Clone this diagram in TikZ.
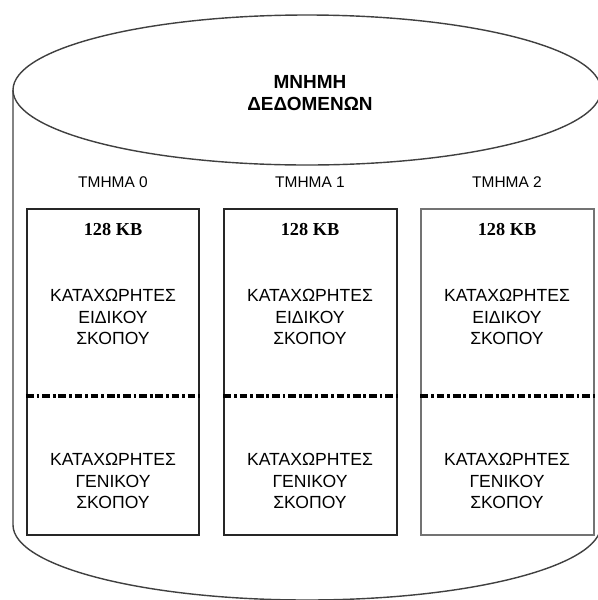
\documentclass[tikz,border=0pt]{standalone}
\usepackage{fontspec}
\setmainfont{Liberation Sans}
\newfontfamily\timesfont{Liberation Serif}
\begin{document}
\begin{tikzpicture}[x=0.025cm,y=-0.025cm,
        seg/.style={draw=black!85,line width=1.4pt,minimum width=4.3cm,minimum height=8.15cm,inner sep=0pt},
        divider/.style={line width=2.3pt,dash pattern=on 5.5pt off 2pt on 2pt off 2pt},
        segname/.style={font=\fontsize{11}{13}\selectfont},
        size/.style={font=\timesfont\bfseries\fontsize{13}{15}\selectfont},
        regs/.style={align=center,font=\fontsize{12.5}{15.5}\selectfont}]
        \useasboundingbox (0,0) rectangle (598,600);
        % cylinder
        \draw[black!75,line width=1pt] (13,90) -- (13,525) arc[start angle=180,end angle=0,x radius=294,y radius=75] -- (601,90);
        \draw[black!75,line width=1pt,fill=white] (307,90) ellipse[x radius=294,y radius=75];
        \node[align=center,font=\bfseries\fontsize{13.5}{16}\selectfont] (title) at (310,93) {ΜΝΗΜΗ\\ΔΕΔΟΜΕΝΩΝ};
        % segments
        \node[segname] (name0) at (113,182) {ΤΜΗΜΑ 0};
        \node[segname] (name1) at (310,182) {ΤΜΗΜΑ 1};
        \node[segname] (name2) at (507,182) {ΤΜΗΜΑ 2};
        \node[seg] (seg0) at (113,372) {};
        \node[seg] (seg1) at (310.5,372) {};
        \node[seg,draw=black!55] (seg2) at (507.5,372) {};
        \coordinate (dv) at (0,396);
        \draw[divider] (seg0.west |- dv) -- (seg0.east |- dv);
        \draw[divider] (seg1.west |- dv) -- (seg1.east |- dv);
        \draw[divider] (seg2.west |- dv) -- (seg2.east |- dv);
        \node[size] (kb0) at (113,230) {128 KB};
        \node[size] (kb1) at (310,230) {128 KB};
        \node[size] (kb2) at (507,230) {128 KB};
        \node[regs] (spec0) at (113,317) {ΚΑΤΑΧΩΡΗΤΕΣ\\ΕΙΔΙΚΟΥ\\ΣΚΟΠΟΥ};
        \node[regs] (spec1) at (310,317) {ΚΑΤΑΧΩΡΗΤΕΣ\\ΕΙΔΙΚΟΥ\\ΣΚΟΠΟΥ};
        \node[regs] (spec2) at (507,317) {ΚΑΤΑΧΩΡΗΤΕΣ\\ΕΙΔΙΚΟΥ\\ΣΚΟΠΟΥ};
        \node[regs] (gen0) at (113,481) {ΚΑΤΑΧΩΡΗΤΕΣ\\ΓΕΝΙΚΟΥ\\ΣΚΟΠΟΥ};
        \node[regs] (gen1) at (310,481) {ΚΑΤΑΧΩΡΗΤΕΣ\\ΓΕΝΙΚΟΥ\\ΣΚΟΠΟΥ};
        \node[regs] (gen2) at (507,481) {ΚΑΤΑΧΩΡΗΤΕΣ\\ΓΕΝΙΚΟΥ\\ΣΚΟΠΟΥ};
    \end{tikzpicture}
\end{document}
